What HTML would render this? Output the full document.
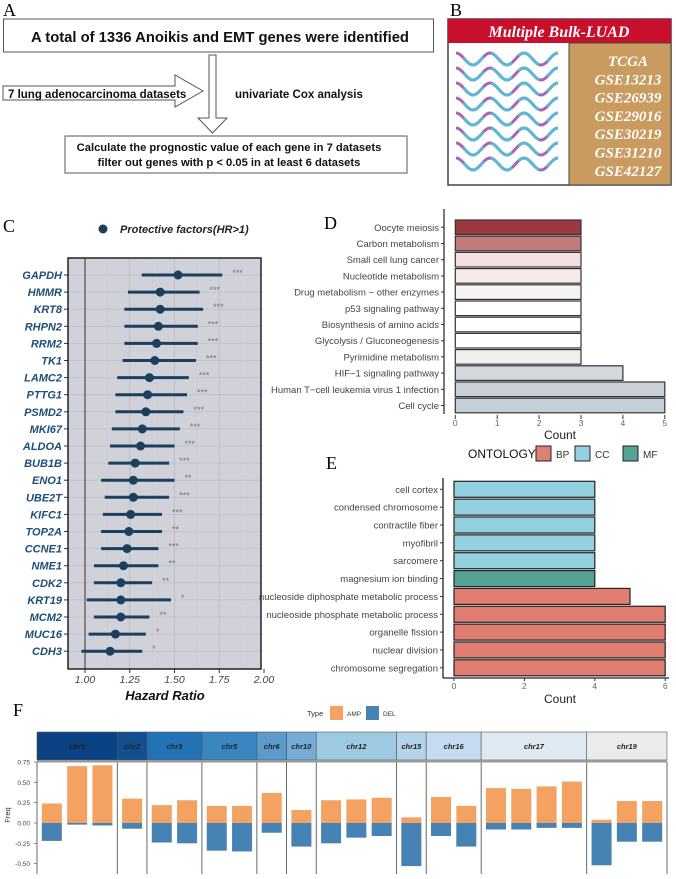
<!DOCTYPE html>
<html><head><meta charset="utf-8"><style>
body{margin:0;background:#fff}
svg text{font-family:"Liberation Sans",sans-serif}
.serif{font-family:"Liberation Serif",serif}
</style></head><body>
<svg id="fig" width="676" height="874" viewBox="0 0 676 874" xmlns="http://www.w3.org/2000/svg">
<!-- Panel A -->
<g>
<text class="serif" x="3" y="16" font-size="18">A</text>
<rect x="3.5" y="19" width="430" height="33" fill="#fff" stroke="#555"/>
<text x="220" y="42" font-size="14.8" font-weight="bold" text-anchor="middle" fill="#111">A total of 1336 Anoikis and EMT genes were identified</text>
<polygon points="209,55 216,55 216,118 227,118 212.5,133 198,118 209,118" fill="#fff" stroke="#555"/>
<polygon points="3,86 175,86 175,75 203,91 175,107 175,100 3,100" fill="#fff" stroke="#555"/>
<text x="8" y="98" font-size="11.5" font-weight="bold" fill="#111">7 lung adenocarcinoma datasets</text>
<text x="235" y="98" font-size="11.5" font-weight="bold" fill="#111">univariate Cox analysis</text>
<rect x="65" y="136" width="342" height="37" fill="#fff" stroke="#555"/>
<text x="229" y="151" font-size="11.2" font-weight="bold" text-anchor="middle" fill="#111">Calculate the prognostic value of each gene in 7 datasets</text>
<text x="229" y="166" font-size="11.2" font-weight="bold" text-anchor="middle" fill="#111">filter out genes with p &lt; 0.05 in at least 6 datasets</text>
</g>
<!-- Panel B -->
<g>
<text class="serif" x="450" y="16" font-size="18">B</text>
<rect x="448" y="19" width="223" height="166" fill="#fff" stroke="#444" stroke-width="1.5"/>
<rect x="448" y="19" width="223" height="24" fill="#c8102e"/>
<text class="serif" x="559" y="37" font-size="16" font-weight="bold" font-style="italic" fill="#fff" text-anchor="middle">Multiple  Bulk-LUAD</text>
<rect x="569" y="43" width="102" height="142" fill="#c99b5e" stroke="#444"/>
<g id="waves"></g>
<g id="dslist"></g>
</g>
<!-- Panel C -->
<g>
<text class="serif" x="3" y="232" font-size="18">C</text>
<circle cx="103" cy="229" r="4.5" fill="#1b3f5e"/>
<text x="120" y="233" font-size="11" font-weight="bold" font-style="italic" fill="#222">Protective factors(HR&gt;1)</text>
<rect x="68" y="258" width="193" height="411" fill="#d1d1d9"/>
<g id="forest"></g>
<rect x="68" y="258" width="193" height="411" fill="none" stroke="#222" stroke-width="1.5"/>
<text x="165" y="700" font-size="13" font-weight="bold" font-style="italic" text-anchor="middle" fill="#111">Hazard Ratio</text>
</g>
<!-- Panel D -->
<g>
<text class="serif" x="324" y="229" font-size="18">D</text>
<g id="kegg"></g>
</g>
<!-- Panel E -->
<g>
<text class="serif" x="326" y="469" font-size="18">E</text>
<text x="468" y="458" font-size="12" fill="#111">ONTOLOGY</text>
<rect x="536" y="446" width="15" height="15" fill="#e07e72" stroke="#222"/>
<text x="556" y="458" font-size="10" fill="#333">BP</text>
<rect x="575" y="446" width="15" height="15" fill="#93d0e0" stroke="#222"/>
<text x="595" y="458" font-size="10" fill="#333">CC</text>
<rect x="623" y="446" width="15" height="15" fill="#55a394" stroke="#222"/>
<text x="643" y="458" font-size="10" fill="#333">MF</text>
<g id="go"></g>
</g>
<!-- Panel F -->
<g>
<text class="serif" x="13" y="716" font-size="18">F</text>
<text x="307" y="716" font-size="7.5" fill="#333">Type</text>
<rect x="330" y="706" width="13" height="14" fill="#f4a261"/>
<text x="347" y="716" font-size="6.5" fill="#333">AMP</text>
<rect x="366" y="706" width="13" height="14" fill="#4682b4"/>
<text x="383" y="716" font-size="6.5" fill="#333">DEL</text>
<g id="cnv"></g>
<text x="10" y="815" font-size="7.5" fill="#333" transform="rotate(-90 10 815)" text-anchor="middle">Freq</text>
</g>
</svg>
<script>
const NS="http://www.w3.org/2000/svg";
function mk(tag,attrs,parent,txt){const e=document.createElementNS(NS,tag);for(const k in attrs)e.setAttribute(k,attrs[k]);if(txt!==undefined)e.textContent=txt;parent.appendChild(e);return e;}

// ---- Panel B data ----
const datasets=["TCGA","GSE13213","GSE26939","GSE29016","GSE30219","GSE31210","GSE42127"];
// ---- Panel C data ----
const genes=["GAPDH","HMMR","KRT8","RHPN2","RRM2","TK1","LAMC2","PTTG1","PSMD2","MKI67","ALDOA","BUB1B","ENO1","UBE2T","KIFC1","TOP2A","CCNE1","NME1","CDK2","KRT19","MCM2","MUC16","CDH3"];
const hr=[1.52,1.42,1.42,1.41,1.40,1.39,1.36,1.35,1.34,1.32,1.31,1.28,1.27,1.27,1.255,1.245,1.235,1.215,1.20,1.20,1.20,1.17,1.14];
const hrLow=[1.317,1.24,1.22,1.22,1.22,1.21,1.18,1.17,1.17,1.15,1.14,1.13,1.09,1.11,1.10,1.09,1.09,1.05,1.05,1.01,1.05,1.02,0.98];
const hrHigh=[1.767,1.64,1.66,1.63,1.63,1.62,1.58,1.57,1.55,1.53,1.50,1.47,1.50,1.47,1.43,1.43,1.41,1.41,1.375,1.48,1.36,1.34,1.32];
const stars=["***","***","***","***","***","***","***","***","***","***","***","***","**","***","***","**","***","**","**","*","**","*","*"];
const hrTicks=[1.00,1.25,1.50,1.75,2.00];
// ---- Panel D data ----
const keggTerms=["Oocyte meiosis","Carbon metabolism","Small cell lung cancer","Nucleotide metabolism","Drug metabolism − other enzymes","p53 signaling pathway","Biosynthesis of amino acids","Glycolysis / Gluconeogenesis","Pyrimidine metabolism","HIF−1 signaling pathway","Human T−cell leukemia virus 1 infection","Cell cycle"];
const keggCounts=[3,3,3,3,3,3,3,3,3,4,5,5];
const keggColors=["#9b3a3e","#c27a7a","#f3dfe0","#f7eaea","#f8f3f3","#ffffff","#ffffff","#fefefe","#efeff0","#d2d8de","#c9d0d8","#c6ced6"];
const keggTicks=[0,1,2,3,4,5];
// ---- Panel E data ----
const goTerms=["cell cortex","condensed chromosome","contractile fiber","myofibril","sarcomere","magnesium ion binding","nucleoside diphosphate metabolic process","nucleoside phosphate metabolic process","organelle fission","nuclear division","chromosome segregation"];
const goCounts=[4,4,4,4,4,4,5,6,6,6,6];
const goOnt=["CC","CC","CC","CC","CC","MF","BP","BP","BP","BP","BP"];
const goTicks=[0,2,4,6];
// ---- Panel F data ----
const chroms=["chr1","chr2","chr3","chr5","chr6","chr10","chr12","chr15","chr16","chr17","chr19"];
const chromGenes=[3,1,2,2,1,1,3,1,2,4,3];
const ampFreq=[0.24,0.70,0.71, 0.30, 0.22,0.28, 0.21,0.21, 0.37, 0.16, 0.28,0.29,0.31, 0.07, 0.32,0.21, 0.43,0.42,0.45,0.51, 0.04,0.27,0.27];
const delFreq=[-0.22,-0.02,-0.03, -0.07, -0.24,-0.25, -0.34,-0.35, -0.12, -0.29, -0.25,-0.18,-0.16, -0.53, -0.16,-0.29, -0.08,-0.08,-0.06,-0.06, -0.52,-0.23,-0.23];
const freqTicks=[0.75,0.50,0.25,0.00,-0.25,-0.50];

// ===== Panel B =====
(function(){
 const wg=document.getElementById('waves');
 for(let i=0;i<8;i++){
  const cy=59+i*15;let d="";
  for(let x=0;x<=102;x+=1){const y=cy-6*Math.sin((x/34)*2*Math.PI-Math.PI/2+Math.PI);d+=(x?"L":"M")+(456+x)+","+y.toFixed(2);}
  const p=mk('path',{d:d,fill:"none",stroke:"#a865b5","stroke-width":3},wg);
  
  
  const c=mk('path',{d:d,fill:"none",stroke:"#5cb8d4","stroke-width":3,"stroke-dasharray":"0 9 26 0"},wg);
  
  
 }
 const dl=document.getElementById('dslist');
 datasets.forEach((d,i)=>{
  const t=mk('text',{x:628,y:66+i*18.3,"font-size":15,"font-weight":"bold","font-style":"italic",fill:"#fff","text-anchor":"middle",class:"serif"},dl,d);
  
  
 });
})();

// ===== Panel C =====
(function(){
 const g=document.getElementById('forest');
 const x=v=>85+(v-1)*179;
 const y=i=>275+i*17.1;
 for(let k=0;k<12;k++){
  const v=0.875+k*0.125;
  const px=x(v);
  if(px<=69||px>=260) continue;
  const major=(k%2===1);
  const l=mk('line',{x1:px,x2:px,y1:258,y2:669,stroke:major?"#bdbdc6":"#c8c8d0","stroke-width":major?1:0.6},g);
  
  
 }
 genes.forEach((gn,i)=>{
  const l=mk('line',{x1:68,x2:261,y1:y(i),y2:y(i),stroke:"#bfbfc8","stroke-width":0.8},g);
  
  
 });
 const ref=mk('line',{x1:x(1),x2:x(1),y1:258,y2:669,stroke:"#333","stroke-width":1},g);
 
 
 genes.forEach((gn,i)=>{
  const ci=mk('line',{x1:x(hrLow[i]),x2:x(hrHigh[i]),y1:y(i),y2:y(i),stroke:"#1b3f5e","stroke-width":3},g);
  
  
  const pt=mk('circle',{cx:x(hr[i]),cy:y(i),r:4.5,fill:"#1b3f5e"},g);
  
  
  const st=mk('text',{x:x(hrHigh[i])+10,y:y(i)+1,"font-size":9,fill:"#777"},g,stars[i]);
  
  
  const tk=mk('line',{x1:64,x2:68,y1:y(i),y2:y(i),stroke:"#333"},g);
  
  
  const lb=mk('text',{x:62,y:y(i)+4,"font-size":11,"font-weight":"bold","font-style":"italic",fill:"#1f4e79","text-anchor":"end"},g,gn);
  
  
 });
 hrTicks.forEach(v=>{
  const tk=mk('line',{x1:x(v),x2:x(v),y1:669,y2:673,stroke:"#333"},g);
  
  
  const t=mk('text',{x:x(v),y:683,"font-size":10.5,"font-style":"italic",fill:"#444","text-anchor":"middle"},g,v.toFixed(2));
  
  
 });
})();

// ===== Panel D =====
(function(){
 const g=document.getElementById('kegg');
 const x=v=>455.3+v*41.9;
 const y=i=>227.3+i*16.2;
 const ax=mk('line',{x1:444,x2:444,y1:209,y2:414,stroke:"#222","stroke-width":1.2},g);
 
 
 keggTerms.forEach((t,i)=>{
  const b=mk('rect',{x:x(0),y:y(i)-7.3,width:x(keggCounts[i])-x(0),height:14.6,fill:keggColors[i],stroke:"#333","stroke-width":1.2},g);
  
  
  const tk=mk('line',{x1:441,x2:444,y1:y(i),y2:y(i),stroke:"#333"},g);
  
  
  const l=mk('text',{x:439,y:y(i)+3.5,"font-size":9.5,fill:"#444","text-anchor":"end"},g,t);
  
  
 });
 keggTicks.forEach(v=>{
  const tk=mk('line',{x1:x(v),x2:x(v),y1:415,y2:419,stroke:"#333"},g);
  
  
  const t=mk('text',{x:x(v),y:426,"font-size":8.5,fill:"#666","text-anchor":"middle"},g,String(v));
  
  
 });
 const ct=mk('text',{x:560,y:439,"font-size":12,fill:"#222","text-anchor":"middle"},g,"Count");
 
 
})();

// ===== Panel E =====
(function(){
 const g=document.getElementById('go');
 const col={BP:"#e07e72",CC:"#93d0e0",MF:"#55a394"};
 const x=v=>454+v*35.2;
 const y=i=>489.3+i*17.85;
 const ax=mk('line',{x1:443,x2:443,y1:478,y2:678,stroke:"#222","stroke-width":1.3},g);
 
 
 const bx=mk('line',{x1:443,x2:669,y1:678,y2:678,stroke:"#222","stroke-width":1.3},g);
 
 
 goTerms.forEach((t,i)=>{
  const b=mk('rect',{x:x(0),y:y(i)-8,width:x(goCounts[i])-x(0),height:16,fill:col[goOnt[i]],stroke:"#222","stroke-width":1.2},g);
  
  
  const tk=mk('line',{x1:440,x2:443,y1:y(i),y2:y(i),stroke:"#333"},g);
  
  
  const l=mk('text',{x:438,y:y(i)+3.5,"font-size":9.5,fill:"#444","text-anchor":"end"},g,t);
  
  
 });
 goTicks.forEach(v=>{
  const tk=mk('line',{x1:x(v),x2:x(v),y1:678,y2:681,stroke:"#333"},g);
  
  
  const t=mk('text',{x:x(v),y:689,"font-size":8.5,fill:"#666","text-anchor":"middle"},g,String(v));
  
  
 });
 const ct=mk('text',{x:560,y:703,"font-size":12,fill:"#222","text-anchor":"middle"},g,"Count");
 
 
})();

// ===== Panel F =====
(function(){
 const g=document.getElementById('cnv');
 const hdrCol=["#0b4283","#124f90","#2372b5","#3a86c1","#5a9bcc","#74acd5","#9ecae1","#b3d4e8","#c6dbef","#dfe9f2","#ebebeb"];
 const x0=37,x1=667,slot=25.3;
 const total=chromGenes.reduce((a,b)=>a+b,0);
 const pad=(x1-x0-total*slot)/chroms.length;
 const y=v=>823-v*81.3;
 let cx=x0,idx=0;
 chroms.forEach((c,ci)=>{
  const w=chromGenes[ci]*slot+pad;
  const h=mk('rect',{x:cx,y:732,width:w,height:28,fill:hdrCol[ci],stroke:"#555","stroke-width":0.6},g);
  
  
  const t=mk('text',{x:cx+w/2,y:749,"font-size":7.5,"font-weight":"bold","font-style":"italic",fill:"#222","text-anchor":"middle"},g,c);
  
  
  for(let k=0;k<chromGenes[ci];k++){
   const bc=cx+pad/2+slot*k+slot/2;
   const a=mk('rect',{x:bc-10,y:y(ampFreq[idx]),width:20,height:y(0)-y(ampFreq[idx]),fill:"#f4a261"},g);
   
   
   const d=mk('rect',{x:bc-10,y:y(0),width:20,height:y(delFreq[idx])-y(0),fill:"#4682b4"},g);
   
   
   idx++;
  }
  const b=mk('line',{x1:cx+w,x2:cx+w,y1:762,y2:874,stroke:"#444","stroke-width":0.8},g);
  
  
  cx+=w;
 });
 const strip=mk('rect',{x:x0,y:760,width:x1-x0,height:2.5,fill:"#999"},g);
 
 
 const la=mk('line',{x1:x0,x2:x0,y1:762,y2:874,stroke:"#444","stroke-width":0.8},g);
 
 
 freqTicks.forEach(v=>{
  const t=mk('text',{x:30,y:y(v)+2.5,"font-size":6.5,fill:"#444","text-anchor":"end"},g,v.toFixed(2));
  
  
  const tk=mk('line',{x1:34,x2:37,y1:y(v),y2:y(v),stroke:"#444","stroke-width":0.6},g);
  
  
 });
})();
</script>
</body></html>
